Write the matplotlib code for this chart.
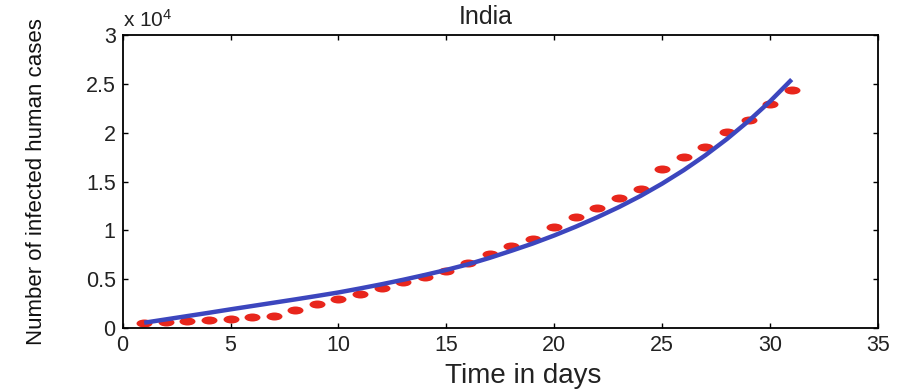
import matplotlib
matplotlib.use('Agg')
import matplotlib.pyplot as plt
from matplotlib.path import Path
from matplotlib.transforms import Affine2D

plt.rcParams['font.family'] = ['Liberation Sans', 'DejaVu Sans']
plt.rcParams['mathtext.default'] = 'regular'

# observed cases (red dots), one per day
days = list(range(1, 32))
cases = [540, 600, 750, 850, 890, 1100, 1270, 1870, 2420, 2950, 3450,
         4140, 4670, 5200, 5790, 6620, 7550, 8410, 9110, 10370, 11390,
         12300, 13340, 14250, 16250, 17540, 18500, 20050, 21300, 22930,
         24360]

# model curve (blue line), read at each day
model = [540, 880, 1220, 1560, 1910, 2250, 2590, 2930, 3280, 3640, 4050,
         4480, 4940, 5430, 5950, 6520, 7180, 7900, 8650, 9480, 10380,
         11350, 12390, 13530, 14790, 16170, 17690, 19360, 21200, 23220,
         25450]

xticks = [0, 5, 10, 15, 20, 25, 30, 35]
yticks = [0, 5000, 10000, 15000, 20000, 25000, 30000]
ytick_labels = ['0', '0.5', '1', '1.5', '2', '2.5', '3']

fig = plt.figure(figsize=(9.15, 3.9), dpi=100)
ax = fig.add_axes([0.134, 0.159, 0.8256, 0.751])

# stretched dot, like the reference
dot = Path.unit_circle().transformed(Affine2D().scale(2.0, 1.0))

ax.plot(days, cases, linestyle='none', marker=dot, markersize=11.5,
        color='#e8261c', markeredgewidth=0)
ax.plot(days, model, color='#3c46be', linewidth=3.2, solid_capstyle='butt',
        solid_joinstyle='round')

ax.set_xlim(0, 35)
ax.set_ylim(0, 30000)
ax.set_xticks(xticks)
ax.set_yticks(yticks)
ax.set_yticklabels(ytick_labels)
ax.tick_params(direction='in', length=3.6, width=1, labelsize=15.5, pad=5,
               top=True, right=True, colors='black', labelcolor='#222222')
for sp in ax.spines.values():
    sp.set_linewidth(1.3)

ax.text(0.0, 1.015, 'x 10$^{4}$', transform=ax.transAxes, ha='left',
        va='bottom', fontsize=15, color='#222222')
ax.set_title('India', fontsize=18, color='#222222', pad=8, x=0.481)
ax.set_xlabel('Time in days', fontsize=20, color='#222222')
ax.xaxis.set_label_coords(0.53, -0.188)
ax.xaxis.label.set_va('baseline')
ax.set_ylabel('Number of infected human cases', fontsize=16, color='#111111')
ax.yaxis.set_label_coords(-0.10, 0.5)

fig.savefig('out.png', dpi=100)
